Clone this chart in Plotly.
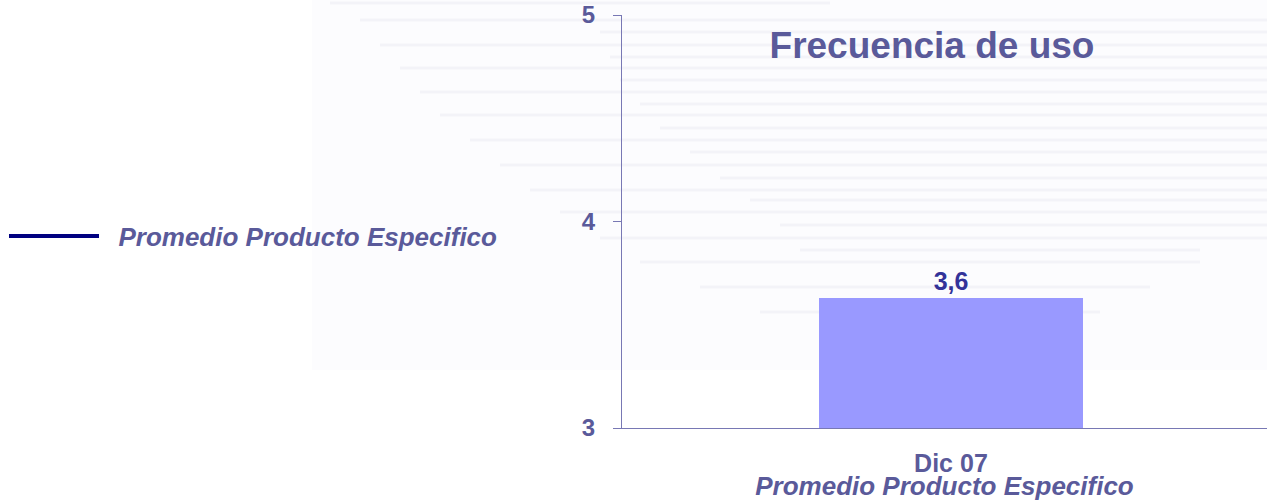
import plotly.graph_objects as go

categories = ["Dic 07"]
values = [3.63]
value_labels = ["3,6"]
series_name = "Promedio Producto Especifico"
title_text = "Frecuencia de uso"
y_ticks = [3, 4, 5]

W, H = 1267, 501
L, R, T, B = 622, 0, 15, 73
PW, PH = W - L - R, H - T - B

TXT = "#5a5a9a"
AX = "#7878b4"
FONT = "Liberation Sans, Arial, sans-serif"


def px(xpage):
    return (xpage - L) / PW


def py(ypage):
    return (H - B - ypage) / PH


fig = go.Figure()
fig.add_trace(go.Bar(
    x=categories, y=values, width=0.41,
    marker=dict(color="#9999ff", line=dict(width=0)),
    text=value_labels, textposition="outside",
    textfont=dict(family=FONT, size=25, color="#333399", weight="bold"),
    cliponaxis=False, showlegend=False, hoverinfo="skip",
))
fig.add_trace(go.Scatter(
    x=categories, y=values, mode="lines", name="\u00a0\u00a0" + series_name,
    line=dict(color="#000080", width=4), showlegend=True, hoverinfo="skip",
))

# faint decorative background (striped globe watermark)
shapes = [dict(type="rect", xref="paper", yref="paper",
               x0=px(312), x1=px(1267), y0=py(370), y1=py(0),
               fillcolor="#fcfcfe", line=dict(width=0), layer="below")]
stripe_rows = [(3, 330, 830), (20, 360, 1267), (32, 600, 1267), (45, 380, 1267), (57, 610, 1267),
               (68, 400, 1267), (80, 620, 1267), (92, 420, 1267), (104, 640, 1267),
               (115, 440, 1267), (128, 660, 1267), (140, 470, 1267), (152, 690, 1267),
               (165, 500, 1267), (178, 720, 1267), (190, 530, 1267), (200, 750, 1267),
               (212, 560, 1267), (225, 780, 1267), (238, 600, 1267), (250, 800, 1200),
               (262, 640, 1200), (287, 700, 1150), (312, 760, 1100), (335, 840, 1000)]
for yy, xa, xb in stripe_rows:
    shapes.append(dict(type="line", xref="paper", yref="paper",
                       x0=px(xa), x1=px(xb), y0=py(yy), y1=py(yy),
                       line=dict(color="#f3f3f8", width=3), layer="below"))

fig.update_layout(
    width=W, height=H,
    margin=dict(l=L, r=R, t=T, b=B, pad=0, autoexpand=False),
    paper_bgcolor="white", plot_bgcolor="rgba(0,0,0,0)",
    font=dict(family=FONT, color=TXT),
    shapes=shapes,
    title=dict(text=title_text, x=932 / W, xanchor="center",
               y=1 - 45 / H, yanchor="middle",
               font=dict(size=37, color=TXT, weight="bold")),
    xaxis=dict(range=[-0.51, 0.49], showline=True, linecolor=AX, linewidth=1,
               ticks="", showgrid=False, zeroline=False, automargin=False,
               tickvals=categories, ticktext=categories,
               ticklabelstandoff=13,
               tickfont=dict(size=25, color=TXT, weight="bold"),
               title=dict(text=series_name + "\u00a0\u00a0\u00a0", standoff=2,
                          font=dict(size=26, color=TXT, weight="bold", style="italic"))),
    yaxis=dict(range=[3, 5], tickvals=y_ticks, ticktext=[str(v) for v in y_ticks],
               showline=True, linecolor=AX, linewidth=1,
               ticks="outside", ticklen=8, tickcolor=AX,
               showgrid=False, zeroline=False, automargin=False,
               ticklabelstandoff=13, ticklabeloverflow="allow",
               tickfont=dict(size=24, color=TXT, weight="bold")),
    legend=dict(x=px(0), xanchor="left", y=py(236), yanchor="middle",
                bgcolor="rgba(0,0,0,0)", itemwidth=90, indentation=4,
                font=dict(size=26, color=TXT, weight="bold", style="italic"),
                itemclick=False),
    bargap=0,
)

fig.write_html("out.html", config={"displayModeBar": False},
               post_script="document.body.style.margin='0';")
